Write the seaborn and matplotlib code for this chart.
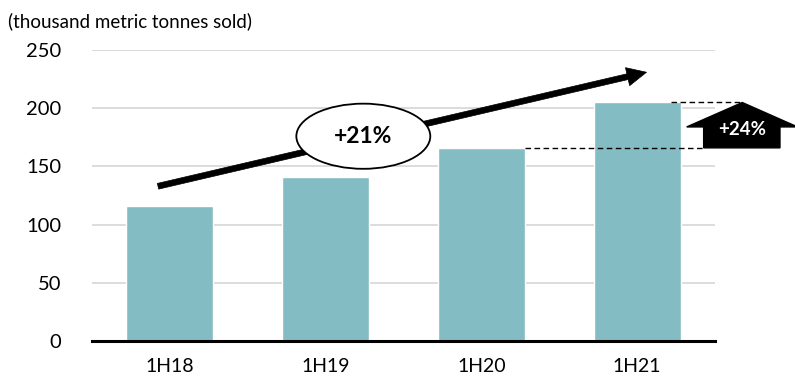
import matplotlib
matplotlib.use("Agg")
import matplotlib.pyplot as plt
import seaborn as sns
import pandas as pd
from matplotlib.patches import Ellipse, Polygon

# Sales volume by half-year
periods = ["1H18", "1H19", "1H20", "1H21"]
tonnes = [116, 141, 166, 205]
cagr_label = "+21%"
yoy_label = "+24%"

df = pd.DataFrame({"period": periods, "tonnes": tonnes})

sns.set_theme(style="white")
plt.rcParams["font.family"] = ["Lato", "DejaVu Sans"]

fig = plt.figure(figsize=(7.95, 3.77), dpi=100)
ax = fig.add_axes([0.1157, 0.0955, 0.7837, 0.7715])

sns.barplot(data=df, x="period", y="tonnes", color="#84BCC3", width=0.56,
            saturation=1, ax=ax, zorder=2)

ax.set_xlim(-0.5, 3.5)
ax.set_ylim(0, 250)
ax.set_yticks(range(0, 251, 50))
ax.yaxis.grid(True, color="#D9D9D9", linewidth=1.3, zorder=0)
ax.set_axisbelow(True)
for side in ["left", "right", "top"]:
    ax.spines[side].set_visible(False)
ax.spines["bottom"].set_color("black")
ax.spines["bottom"].set_linewidth(2.2)
ax.spines["bottom"].set_zorder(3)
ax.set_xlabel("")
ax.set_ylabel("")
ax.tick_params(axis="y", length=0, pad=22, labelsize=14.5, labelcolor="black")
ax.tick_params(axis="x", length=0, pad=12, labelsize=14, labelcolor="black")

fig.text(0.01, 0.945, "(thousand metric tonnes sold)", fontsize=13.5,
         color="black", ha="left", va="center")

# Growth trend arrow across the period
ax.annotate("", xy=(3.06, 231), xytext=(-0.076, 133),
            arrowprops=dict(arrowstyle="simple,head_length=1.0,head_width=0.95,tail_width=0.3",
                            mutation_scale=14, facecolor="black",
                            edgecolor="black", lw=0.5, shrinkA=0, shrinkB=0),
            zorder=4)
ell = Ellipse((1.242, 176), width=0.86, height=56, facecolor="white",
              edgecolor="black", linewidth=1.3, zorder=5)
ax.add_patch(ell)
ax.text(1.242, 176, cagr_label, ha="center", va="center", fontsize=16.5,
        fontweight="bold", color="black", zorder=6)

# Year-over-year comparison: dashed guides and up arrow
bar_half = 0.28
ax.plot([2 + bar_half, 3.43], [tonnes[2], tonnes[2]], color="black",
        linestyle=(0, (4, 2.5)), linewidth=1, zorder=3, clip_on=False)
ax.plot([3 + 0.22, 3.68], [tonnes[3], tonnes[3]], color="black",
        linestyle=(0, (4, 2.5)), linewidth=1, zorder=3, clip_on=False)
shoulder = 184
arrow_pts = [(3.427, tonnes[2]), (3.427, shoulder), (3.318, shoulder),
             (3.675, tonnes[3]), (4.03, shoulder), (3.917, shoulder),
             (3.917, tonnes[2])]
ax.add_patch(Polygon(arrow_pts, closed=True, facecolor="black",
                     edgecolor="black", clip_on=False, zorder=4))
ax.text(3.675, 182, yoy_label, ha="center", va="center", fontsize=13.5,
        fontweight="bold", color="white", zorder=5, clip_on=False)

fig.savefig("out.png", dpi=100)
